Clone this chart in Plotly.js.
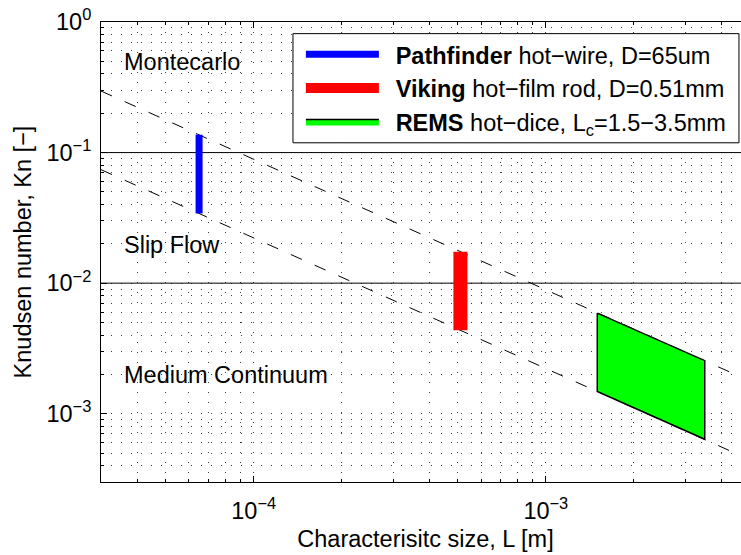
<!DOCTYPE html>
<html><head><meta charset="utf-8">
<script src="https://cdn.plot.ly/plotly-3.0.1.min.js"></script>
<style>html,body{margin:0;padding:0;overflow:hidden;background:#fff}</style>
</head><body><div id="chart" style="width:760px;height:555px"></div>
<script>
// axis extents (data units)
const xRange = [3e-5, 5e-3];
const yRange = [3e-4, 1];
// dashed lines (Kn = lambda / L), read at the plot edges
const dashUpperX = [3e-5, 5e-3];
const dashUpperY = [0.296, 0.00178];
const dashLowerX = [3e-5, 5e-3];
const dashLowerY = [0.074, 0.000444];
// regime boundaries
const boundaryKn = [0.1, 0.01];
// sensors
const pathfinderX = [6.5e-5, 6.5e-5];
const pathfinderY = [0.137, 0.0342];
const vikingX = [5.1e-4, 5.1e-4];
const vikingY = [0.0174, 0.00436];
const remsX = [1.5e-3, 3.5e-3, 3.5e-3, 1.5e-3, 1.5e-3];
const remsY = [0.0059, 0.00255, 0.000637, 0.00148, 0.0059];
const seriesNames = [
  '<b>Pathfinder</b> hot−wire, D=65um',
  '<b>Viking</b> hot−film rod, D=0.51mm',
  '<b>REMS</b> hot−dice, L<sub>c</sub>=1.5−3.5mm'
];
// region labels
const regionLabels = ['Montecarlo', 'Slip Flow', 'Medium Continuum'];
const regionX = [3.53e-5, 3.53e-5, 3.53e-5];
const regionY = [0.497, 0.0196, 0.00197];
// ticks
const xTickVals = [1e-4, 1e-3];
const xTickText = ['10<sup>−4</sup>', '10<sup>−3</sup>'];
const yTickVals = [1e-3, 1e-2, 1e-1, 1];
const yTickText = ['10<sup>−3</sup>', '10<sup>−2</sup>', '10<sup>−1</sup>', '10<sup>0</sup>'];
const xDecades = [-5, -4, -3];
const yDecades = [-4, -3, -2, -1];

function minorVals(decades, lo, hi) {
  const out = [];
  decades.forEach(function (d) {
    for (let m = 2; m <= 9; m++) {
      const v = m * Math.pow(10, d);
      if (v >= lo * 0.999 && v <= hi * 1.001) out.push(v);
    }
  });
  return out;
}

const FONT = 'Liberation Sans, Arial, Helvetica, sans-serif';
const FS = 23.5;
const traces = [
  {x: dashUpperX, y: dashUpperY, mode: 'lines', line: {color: '#000', width: 1, dash: '12px,14px'}, showlegend: false, hoverinfo: 'skip'},
  {x: dashLowerX, y: dashLowerY, mode: 'lines', line: {color: '#000', width: 1, dash: '12px,14px'}, showlegend: false, hoverinfo: 'skip'},
  {x: xRange, y: [boundaryKn[0], boundaryKn[0]], mode: 'lines', line: {color: '#000', width: 1}, showlegend: false, hoverinfo: 'skip'},
  {x: xRange, y: [boundaryKn[1], boundaryKn[1]], mode: 'lines', line: {color: '#000', width: 1}, showlegend: false, hoverinfo: 'skip'},
  {x: pathfinderX, y: pathfinderY, mode: 'lines', name: '\u2002' + seriesNames[0], line: {color: '#0000ff', width: 7}},
  {x: vikingX, y: vikingY, mode: 'lines', name: '\u2002' + seriesNames[1], line: {color: '#ff0000', width: 14}},
  {x: remsX, y: remsY, mode: 'lines', fill: 'toself', fillcolor: '#00ff00', name: '\u2002' + seriesNames[2], line: {color: '#000', width: 1.5}}
];

const annotations = regionLabels.map(function (t, i) {
  return {x: Math.log10(regionX[i]), y: Math.log10(regionY[i]), xref: 'x', yref: 'y', text: t,
    showarrow: false, xanchor: 'left', yanchor: 'middle', font: {size: FS, color: '#000', family: FONT}};
});

const gridDash = '1px,9px';
const layout = {
  width: 760, height: 555,
  margin: {l: 101, r: 10, t: 22, b: 73},
  paper_bgcolor: '#fff', plot_bgcolor: '#fff',
  font: {family: FONT, size: FS, color: '#000'},
  showlegend: true,
  xaxis: {
    type: 'log', range: [Math.log10(xRange[0]), Math.log10(xRange[1])],
    tickmode: 'array', tickvals: xTickVals, ticktext: xTickText,
    ticks: 'inside', ticklen: 6, tickcolor: '#000', mirror: 'ticks',
    showline: true, linecolor: '#000', linewidth: 1,
    showgrid: true, gridcolor: 'rgba(0,0,0,0.75)', griddash: gridDash, gridwidth: 1,
    zeroline: false, ticklabelstandoff: 8,
    minor: {tickmode: 'array', tickvals: minorVals(xDecades, xRange[0], xRange[1]), ticks: 'inside', ticklen: 3,
      tickcolor: '#000', showgrid: true, gridcolor: 'rgba(0,0,0,0.75)', griddash: gridDash, gridwidth: 1},
    title: {text: 'Characterisitc size, L [m]', font: {size: FS}, standoff: 7}
  },
  yaxis: {
    type: 'log', range: [Math.log10(yRange[0]), Math.log10(yRange[1])],
    tickmode: 'array', tickvals: yTickVals, ticktext: yTickText,
    ticks: 'inside', ticklen: 6, tickcolor: '#000', mirror: 'ticks',
    showline: true, linecolor: '#000', linewidth: 1,
    showgrid: true, gridcolor: 'rgba(0,0,0,0.75)', griddash: gridDash, gridwidth: 1,
    zeroline: false, ticklabelstandoff: 4,
    minor: {tickmode: 'array', tickvals: minorVals(yDecades, yRange[0], yRange[1]), ticks: 'inside', ticklen: 3,
      tickcolor: '#000', showgrid: true, gridcolor: 'rgba(0,0,0,0.75)', griddash: gridDash, gridwidth: 1},
    title: {text: 'Knudsen number, Kn [−]', font: {size: FS}, standoff: 8}
  },
  shapes: [{
    type: 'rect', xref: 'paper', yref: 'paper', x0: 0.2958, x1: 0.983, y0: 0.7374, y1: 0.9747,
    line: {color: '#000', width: 1}, fillcolor: '#fff', layer: 'above'
  }],
  legend: {
    x: 0.308, xanchor: 'left', y: 0.977, yanchor: 'top',
    bgcolor: 'rgba(0,0,0,0)', borderwidth: 0,
    font: {size: FS, family: FONT}, itemwidth: 73, tracegroupgap: 0
  },
  annotations: annotations
};

Plotly.newPlot('chart', traces, layout, {displayModeBar: false, staticPlot: true});
</script>
</body></html>
